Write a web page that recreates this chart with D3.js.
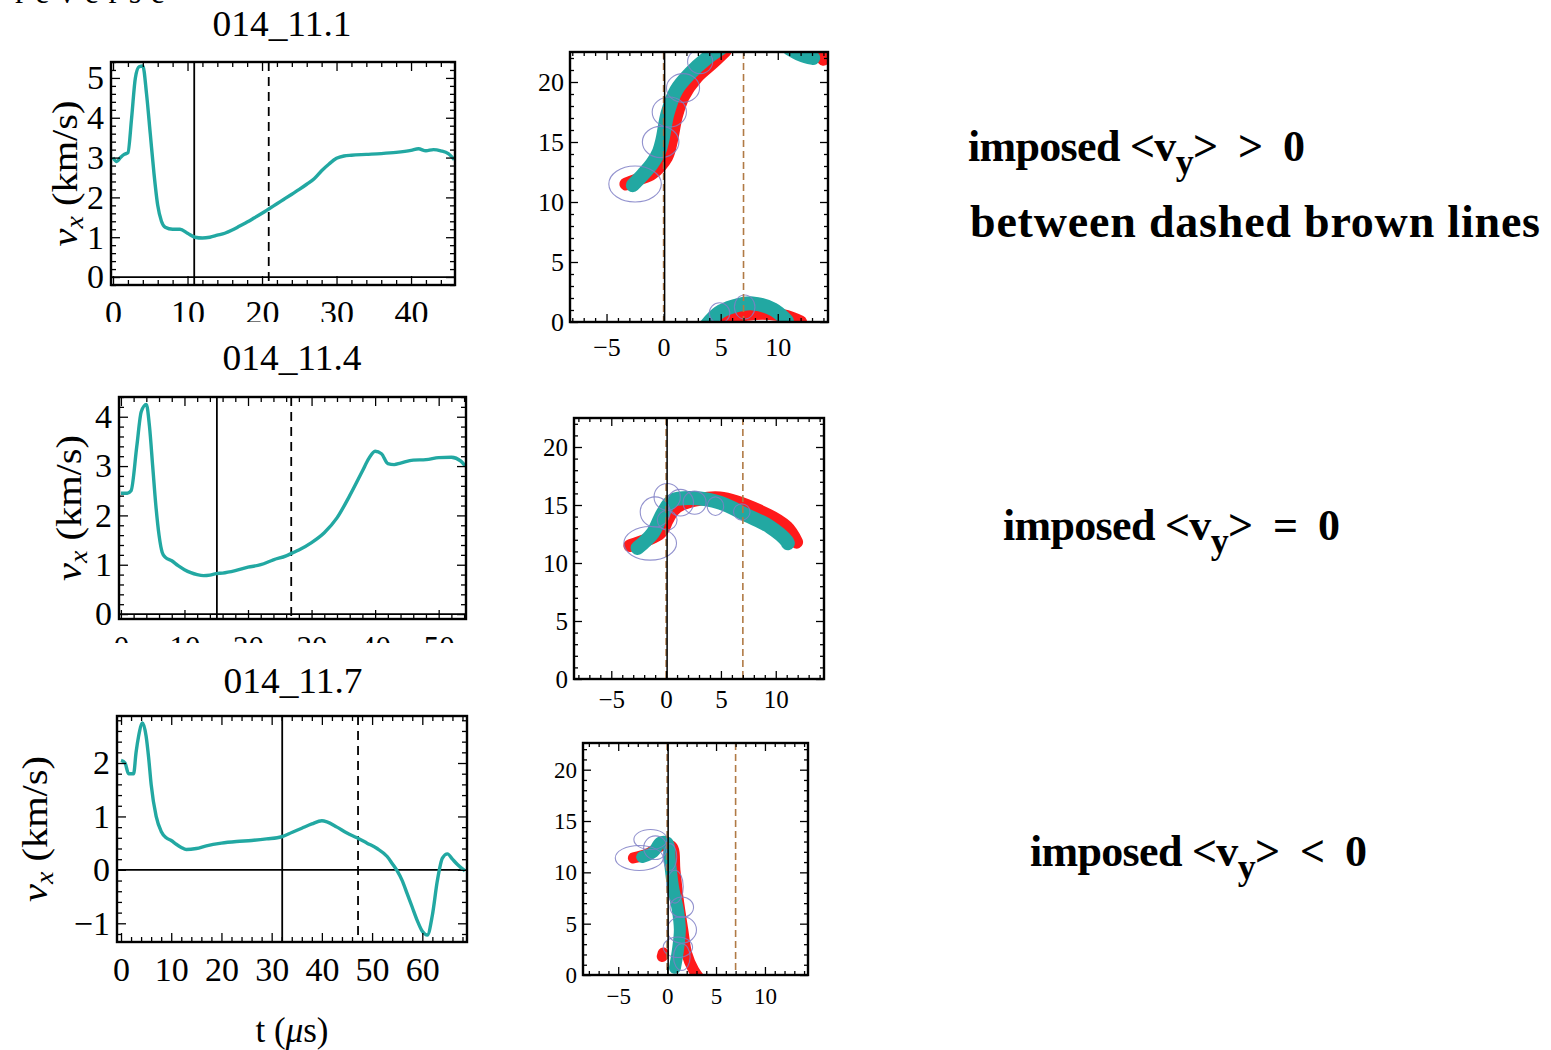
<!DOCTYPE html>
<html>
<head>
<meta charset="utf-8">
<script src="https://cdn.jsdelivr.net/npm/d3@7"></script>
<style>
  body { margin: 0; background: #fff; }
  text { font-family: "Liberation Serif", "Times New Roman", serif; }
</style>
</head>
<body>
<div id="viz-container"></div>
<script>
// ---------- data: v_x(t) runs ----------
const runNames = ["014_11.1", "014_11.4", "014_11.7"];

const t1 = [0,0.5,1,1.5,2,2.5,3,3.5,4,4.5,5,5.5,6,6.5,7,8,9,10,11,12,13,14,15,16,17,18,19,20,21,22,23,24,25,26,27,28,29,30,31,32,34,36,38,40,41,42,43,44,45,45.8];
const vx1 = [3.0,2.9,3.0,3.08,3.12,4.0,5.0,5.28,5.3,4.6,3.6,2.6,1.8,1.4,1.25,1.2,1.2,1.1,1.0,0.98,1.0,1.05,1.1,1.18,1.28,1.38,1.49,1.6,1.72,1.84,1.96,2.08,2.2,2.33,2.47,2.67,2.84,2.98,3.04,3.06,3.08,3.1,3.13,3.18,3.22,3.17,3.2,3.17,3.1,2.95];

const t2 = [0,1,1.6,2.5,3.2,4,4.5,5,5.5,6,6.5,7,8,9,10,11,12,13,14,15,16,18,20,22,24,26,27,28,30,32,34,36,38,39,40,41,42,43,44,46,48,50,52,53.5,54.2];
const vx2 = [2.45,2.45,2.5,3.4,4.1,4.25,3.8,3.0,2.2,1.6,1.25,1.15,1.08,0.98,0.9,0.84,0.8,0.78,0.79,0.82,0.83,0.88,0.95,1.0,1.1,1.18,1.24,1.3,1.45,1.65,1.95,2.4,2.9,3.15,3.3,3.25,3.05,3.03,3.06,3.12,3.13,3.17,3.18,3.1,3.0];

const t3 = [0,0.8,1.5,2.5,3,3.5,4.3,5,5.5,6,7,8,9,10,11,12,13,15,17,20,23,26,29,32,34,36,38,40,41,43,45,47,49,51,53,54,55,56,57,58,59,60,61,62,63,64,65,66,67,68.5];
const vx3 = [2.05,2.0,1.8,1.8,2.2,2.5,2.75,2.5,2.1,1.6,1.0,0.72,0.6,0.55,0.48,0.42,0.38,0.4,0.45,0.5,0.53,0.55,0.58,0.62,0.7,0.78,0.86,0.92,0.9,0.8,0.69,0.6,0.5,0.4,0.25,0.12,-0.02,-0.2,-0.45,-0.7,-0.95,-1.15,-1.22,-0.85,-0.2,0.22,0.3,0.2,0.1,-0.02];

const tSolid = [10.9, 15.1, 32.1];
const tDashed = [20.9, 26.8, 47.2];

const tTicks = [[0,10,20,30,40], [0,10,20,30,40,50], [0,10,20,30,40,50,60]];
const vTicks = [[0,1,2,3,4,5], [0,1,2,3,4], [-1,0,1,2]];

// ---------- data: trajectories (null = wrap-around break) ----------
const tealX1 = [-2.7,-1.8,-1,-0.4,-0.1,0.35,1.1,2.3,3.8,5,null,3.8,4.8,6.1,7.8,9.6,10.8,null,11,12,13.1];
const tealY1 = [11.4,12.3,13.2,14.2,15.2,17.4,19.3,20.7,22,22.8,null,-0.2,0.75,1.3,1.55,1.05,0.1,null,22.8,22.3,22.0];
const redX1 = [-3.3,-2.2,-1,0.26,0.7,1.1,1.7,2.9,4.3,5.4,null,5.5,6.4,8,9.3,10.8,12,null,13.4,14.0];
const redY1 = [11.5,11.9,12.4,13.75,15.2,17.1,18.75,20.4,21.6,22.6,null,0,0.45,0.7,0.7,0.45,0,null,22.6,21.9];
const ellX1 = [-2.5,-0.26,0.5,1.7,3.2,4.9,7.1];
const ellY1 = [11.5,15,17.5,19.5,21.7,0.75,1.25];
const ellRx1 = [2.3,1.6,1.5,1.45,1.1,0.9,0.9];
const ellRy1 = [1.5,1.3,1.25,1.2,1.0,0.85,1.0];

const tealX2 = [-2.6,-1.2,-0.3,0.6,2.5,4.9,7.4,9.5,11,11.1];
const tealY2 = [11.3,12.6,14.3,15.4,15.6,15.2,14.1,13.1,11.9,11.7];
const redX2 = [-3.3,-0.55,0.1,0.6,1.5,4.9,8.5,11,11.9];
const redY2 = [11.5,12.6,13.7,14.5,15.1,15.6,14.5,13.1,11.8];
const ellX2 = [-1.45,-1,0.1,1.3,2.6,4.5,6.9,0.1];
const ellY2 = [11.7,14.4,15.7,15.2,15.2,14.9,14.4,13.7];
const ellRx2 = [2.4,1.36,1.2,1.2,1.05,0.75,0.75,0.9];
const ellRy2 = [1.45,1.3,1.15,1.15,1.0,0.8,0.7,0.85];

const tealX3 = [-2.55,-1.4,-0.7,0,0.3,0.6,1.1,1.3,1.1,0.8];
const tealY3 = [11.5,12.0,12.9,12.9,10.9,8.6,6.3,4.4,2.4,0.7];
const redX3 = [-3.45,-2,-0.5,0.5,0.8,1.1,1.6,2,2.7,3.2,null,-0.5,-0.4];
const redY3 = [11.4,11.8,12.6,12.5,10.2,7.6,4.4,2.1,0.5,-0.2,null,1.8,2.15];
const ellX3 = [-2.85,-1.7,-1.2,0.3,0.8,1.5,1.5,1.1,1.5];
const ellY3 = [11.4,13.2,12.4,11.5,8.6,6.6,4.4,2.7,1.75];
const ellRx3 = [2.45,1.7,1.2,0.68,0.85,1.2,1.5,1.5,0.85];
const ellRy3 = [1.22,0.98,1.15,1.3,1.6,1.0,1.3,1.0,1.3];

const posTicksX = [-5, 0, 5, 10];
const posTicksY = [0, 5, 10, 15, 20];
const brownX = [0, 7];

// ---------- notes ----------
const noteRel = [">", "=", "<"];
const noteExtra = "between dashed brown lines";

// ---------- layout ----------
let tsBox = [
  {left:111, right:455, top:62, bottom:285, xDom:[-0.27,45.9], yDom:[-0.2,5.4], clip:322, titleX:282, titleY:36, labX:77, xPad:15, fs:34},
  {left:119, right:466, top:397, bottom:619, xDom:[-0.3,54.3], yDom:[-0.1,4.4], clip:643, titleX:292, titleY:370, labX:81, xPad:17, fs:31},
  {left:117, right:467, top:716, bottom:942, xDom:[-0.8,68.9], yDom:[-1.35,2.88], clip:null, titleX:293, titleY:693, labX:47, xPad:15, fs:34}
];
let trBox = [
  {left:570, right:828, top:52, bottom:322, xDom:[-8.2,14.4], yDom:[0,22.5], fs:26, xPad:16, w:14},
  {left:574, right:824, top:418, bottom:679, xDom:[-8.4,14.4], yDom:[0,22.5], fs:25, xPad:11, w:14},
  {left:583, right:808, top:743, bottom:975, xDom:[-8.6,14.4], yDom:[0,22.6], fs:23, xPad:13, w:12}
];
let notePos = [{x:968, y:161, len:337}, {x:1003, y:540, len:337}, {x:1030, y:866, len:337}];

let teal = "#22a8a2";

let viz = d3.select("#viz-container")
  .append("svg")
  .attr("id", "viz")
  .attr("width", 1551)
  .attr("height", 1050)
  ;
let defs = viz.append("defs");

let clipN = 0;
function clipRect(x, y, w, h){
  let id = "clip" + (clipN++);
  defs.append("clipPath").attr("id", id)
    .append("rect").attr("x", x).attr("y", y).attr("width", w).attr("height", h);
  return "url(#" + id + ")";
}

function stepTicks(dom, step){
  let lo = Math.ceil(dom[0]/step - 1e-9), hi = Math.floor(dom[1]/step + 1e-9);
  return d3.range(lo, hi + 1).map(k => Math.round(k*step*1000)/1000);
}

// frame with inward ticks on all four sides (Mathematica style)
function drawAxes(b, x, y, o){
  let xm = stepTicks(x.domain(), o.xMinor).filter(v => !o.xTicks.includes(v));
  let ym = stepTicks(y.domain(), o.yMinor).filter(v => !o.yTicks.includes(v));
  let fmt = d3.format("d");
  let g = viz.append("g");

  let bot = g.append("g");
  if(o.clip) bot.attr("clip-path", clipRect(0, 0, 1551, o.clip));
  bot.append("g").attr("transform", "translate(0," + b.bottom + ")")
    .call(d3.axisBottom(x).tickValues(o.xTicks).tickSize(-o.maj).tickPadding(o.xPad).tickFormat(fmt));
  g.append("g").attr("transform", "translate(" + b.left + ",0)")
    .call(d3.axisLeft(y).tickValues(o.yTicks).tickSize(-o.maj).tickPadding(o.yPad).tickFormat(fmt));

  let sides = [
    [d3.axisTop, x, "translate(0," + b.top + ")", o.xTicks, o.maj],
    [d3.axisRight, y, "translate(" + b.right + ",0)", o.yTicks, o.maj],
    [d3.axisBottom, x, "translate(0," + b.bottom + ")", xm, o.mnr],
    [d3.axisTop, x, "translate(0," + b.top + ")", xm, o.mnr],
    [d3.axisLeft, y, "translate(" + b.left + ",0)", ym, o.mnr],
    [d3.axisRight, y, "translate(" + b.right + ",0)", ym, o.mnr]
  ];
  sides.forEach(function(s){
    g.append("g").attr("transform", s[2])
      .call(s[0](s[1]).tickValues(s[3]).tickSize(-s[4]).tickFormat(""));
  });

  g.selectAll(".domain").remove();
  g.selectAll(".tick line").attr("stroke", "#000").attr("stroke-width", 1.3);
  g.selectAll(".tick text").attr("font-size", o.fs).attr("fill", "#000");
  // left labels use the full size even where the bottom row is shrunk
  if(o.yFs) g.selectAll("g:nth-child(2) .tick text").attr("font-size", o.yFs);

  viz.append("rect")
    .attr("x", b.left).attr("y", b.top)
    .attr("width", b.right - b.left).attr("height", b.bottom - b.top)
    .attr("fill", "none").attr("stroke", "#000").attr("stroke-width", 2.4);
}

// ---------- left column: v_x(t) ----------
let tsT = [t1, t2, t3];
let tsV = [vx1, vx2, vx3];

tsBox.forEach(function(b, i){
  let x = d3.scaleLinear().domain(b.xDom).range([b.left, b.right]);
  let y = d3.scaleLinear().domain(b.yDom).range([b.bottom, b.top]);
  let plot = viz.append("g").attr("clip-path", clipRect(b.left, b.top, b.right - b.left, b.bottom - b.top));

  if(b.yDom[0] < 0){
    plot.append("line")
      .attr("x1", b.left).attr("x2", b.right).attr("y1", y(0)).attr("y2", y(0))
      .attr("stroke", "#000").attr("stroke-width", 1.8);
  }
  plot.append("line")
    .attr("x1", x(tSolid[i])).attr("x2", x(tSolid[i])).attr("y1", b.top).attr("y2", b.bottom)
    .attr("stroke", "#000").attr("stroke-width", 1.8);
  plot.append("line")
    .attr("x1", x(tDashed[i])).attr("x2", x(tDashed[i])).attr("y1", b.top).attr("y2", b.bottom)
    .attr("stroke", "#000").attr("stroke-width", 1.8).attr("stroke-dasharray", "9,6");

  let line = d3.line().curve(d3.curveMonotoneX).x(d => x(d[0])).y(d => y(d[1]));
  plot.append("path")
    .attr("d", line(d3.zip(tsT[i], tsV[i])))
    .attr("fill", "none").attr("stroke", teal).attr("stroke-width", 3.4)
    .attr("stroke-linejoin", "round");

  drawAxes(b, x, y, {xTicks: tTicks[i], yTicks: vTicks[i], xMinor: 2, yMinor: 0.2,
    maj: 9, mnr: 5, fs: b.fs, yFs: 34, xPad: b.xPad, yPad: 7, clip: b.clip});

  viz.append("text")
    .attr("x", b.titleX).attr("y", b.titleY)
    .attr("text-anchor", "middle").attr("font-size", 35)
    .attr("textLength", 139).attr("lengthAdjust", "spacingAndGlyphs")
    .text(runNames[i]);

  let lab = viz.append("text")
    .attr("transform", "translate(" + b.labX + "," + ((b.top + b.bottom)/2) + ") rotate(-90)")
    .attr("text-anchor", "middle").attr("font-size", 36)
    .attr("textLength", 146).attr("lengthAdjust", "spacingAndGlyphs");
  lab.append("tspan").attr("font-style", "italic").text("v");
  lab.append("tspan").attr("font-style", "italic").attr("font-size", 25).attr("dy", 6).text("x");
  lab.append("tspan").attr("dy", -6).text(" (km/s)");
});

viz.append("text")
  .attr("x", 292).attr("y", 1042)
  .attr("text-anchor", "middle").attr("font-size", 35)
  .html('t (<tspan font-style="italic">\u03bc</tspan>s)');

// word cut off at the very top of the source picture
viz.append("text").attr("x", 15).attr("y", 3).attr("font-size", 32)
  .attr("textLength", 150).text("reverse");

// ---------- middle column: trajectories ----------
let trTeal = [[tealX1, tealY1], [tealX2, tealY2], [tealX3, tealY3]];
let trRed = [[redX1, redY1], [redX2, redY2], [redX3, redY3]];
let trEll = [[ellX1, ellY1, ellRx1, ellRy1], [ellX2, ellY2, ellRx2, ellRy2], [ellX3, ellY3, ellRx3, ellRy3]];

trBox.forEach(function(b, i){
  let x = d3.scaleLinear().domain(b.xDom).range([b.left, b.right]);
  let y = d3.scaleLinear().domain(b.yDom).range([b.bottom, b.top]);
  let plot = viz.append("g").attr("clip-path", clipRect(b.left, b.top, b.right - b.left, b.bottom - b.top));

  let line = d3.line().defined(d => d[0] !== null).curve(d3.curveCatmullRom)
    .x(d => x(d[0])).y(d => y(d[1]));

  plot.append("path")
    .attr("d", line(d3.zip(trRed[i][0], trRed[i][1])))
    .attr("fill", "none").attr("stroke", "#ff1a1a").attr("stroke-width", b.w - 1)
    .attr("stroke-linecap", "round").attr("stroke-linejoin", "round");
  plot.append("path")
    .attr("d", line(d3.zip(trTeal[i][0], trTeal[i][1])))
    .attr("fill", "none").attr("stroke", teal).attr("stroke-width", b.w)
    .attr("stroke-linecap", "round").attr("stroke-linejoin", "round");

  let e = trEll[i];
  plot.selectAll("ellipse").data(d3.range(e[0].length)).enter().append("ellipse")
    .attr("cx", k => x(e[0][k]))
    .attr("cy", k => y(e[1][k]))
    .attr("rx", k => x(e[2][k]) - x(0))
    .attr("ry", k => y(0) - y(e[3][k]))
    .attr("fill", "none").attr("stroke", "#7f7fc6").attr("stroke-width", 1.1).attr("opacity", 0.85);

  plot.selectAll(".brown").data(brownX).enter().append("line")
    .attr("class", "brown")
    .attr("x1", d => x(d)).attr("x2", d => x(d)).attr("y1", b.top).attr("y2", b.bottom)
    .attr("stroke", "#b07a45").attr("stroke-width", 1.6).attr("stroke-dasharray", "7,4");
  plot.append("line")
    .attr("x1", x(0) + 1).attr("x2", x(0) + 1).attr("y1", b.top).attr("y2", b.bottom)
    .attr("stroke", "#000").attr("stroke-width", 1.5);

  drawAxes(b, x, y, {xTicks: posTicksX, yTicks: posTicksY, xMinor: 1, yMinor: 1,
    maj: 8, mnr: 4, fs: b.fs, xPad: b.xPad, yPad: 6, clip: null});
});

// ---------- right column: notes ----------
notePos.forEach(function(p, i){
  let t = viz.append("text")
    .attr("x", p.x).attr("y", p.y)
    .attr("font-size", 44).attr("font-weight", "bold")
    .attr("textLength", p.len)
    .style("white-space", "pre");
  t.append("tspan").text("imposed <v");
  t.append("tspan").attr("dy", 13).attr("font-size", 36).text("y");
  t.append("tspan").attr("dy", -13).text(">  " + noteRel[i] + "  0");
});

viz.append("text")
  .attr("x", 970).attr("y", 237)
  .attr("font-size", 46).attr("font-weight", "bold")
  .attr("textLength", 570)
  .text(noteExtra);
</script>
</body>
</html>
